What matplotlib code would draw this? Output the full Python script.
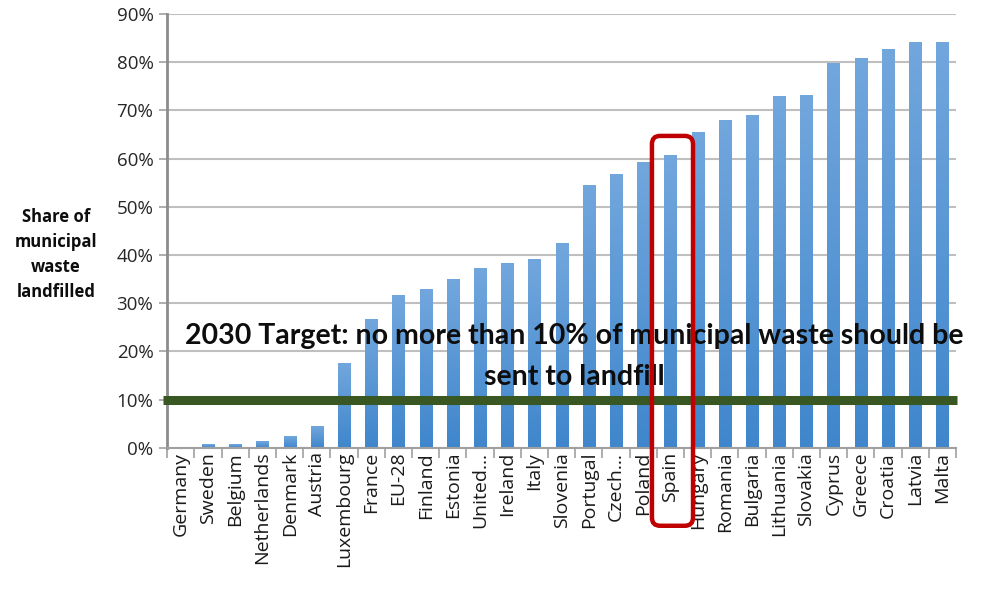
import matplotlib
matplotlib.use("Agg")
import matplotlib.pyplot as plt
import numpy as np
from matplotlib.patches import FancyBboxPatch
from matplotlib.colors import LinearSegmentedColormap

countries = ["Germany", "Sweden", "Belgium", "Netherlands", "Denmark", "Austria",
             "Luxembourg", "France", "EU-28", "Finland", "Estonia", "United…",
             "Ireland", "Italy", "Slovenia", "Portugal", "Czech…", "Poland", "Spain",
             "Hungary", "Romania", "Bulgaria", "Lithuania", "Slovakia", "Cyprus",
             "Greece", "Croatia", "Latvia", "Malta"]
landfill_share = [0.0, 0.7, 0.7, 1.3, 2.4, 4.4, 17.6, 26.6, 31.6, 32.9, 34.9, 37.2,
                  38.2, 39.2, 42.4, 54.4, 56.7, 59.3, 60.7, 65.4, 68.0, 69.0, 73.0,
                  73.2, 79.7, 80.9, 82.6, 84.2, 84.2]
yticks = [0, 10, 20, 30, 40, 50, 60, 70, 80, 90]
target = 10
highlight = "Spain"

LABEL_FONT = ["Open Sans", "DejaVu Sans"]
TITLE_FONT = ["Lato", "DejaVu Sans"]
plt.rcParams["font.family"] = LABEL_FONT

fig = plt.figure(figsize=(9.84, 5.89), dpi=100)
ax = fig.add_axes([167.3 / 984, 141.3 / 589, (956 - 167.3) / 984, (575 - 141.3) / 589])

x = np.arange(len(countries))
bars = ax.bar(x, landfill_share, width=0.45, color="#5B9BD5", zorder=2)

# vertical gradient over each bar
grad = np.linspace(0, 1, 256).reshape(-1, 1)
cmap = LinearSegmentedColormap.from_list("g", ["#3F86CC", "#72A7DD"])
for b in bars:
    h = b.get_height()
    if h <= 0:
        continue
    ax.imshow(grad, extent=[b.get_x(), b.get_x() + b.get_width(), 0, h],
              origin="lower", cmap=cmap, aspect="auto", zorder=2.5)
    b.set_visible(False)

ax.set_xlim(-0.5, len(countries) - 0.5)
ax.set_ylim(0, 90)

ax.set_yticks(yticks)
ax.set_yticklabels([f"{v}%" for v in yticks], fontsize=13.5, color="#262626")
ax.yaxis.grid(True, color="#BFBFBF", linewidth=1.5, zorder=0)
ax.set_axisbelow(True)

ax.set_xticks(np.arange(-0.5, len(countries) + 0.5, 1), minor=False)
ax.set_xticklabels([])
ax.set_xticks(x, minor=True)
ax.set_xticklabels(countries, minor=True, rotation=90, fontsize=14, color="#1a1a1a",
                   va="top", ha="center")
ax.tick_params(axis="x", which="major", length=7, width=1.2, color="#A0A0A0")
ax.tick_params(axis="x", which="minor", length=0, pad=3)
ax.tick_params(axis="y", length=6, width=1.2, color="#A0A0A0", pad=4)

for s in ["top", "right"]:
    ax.spines[s].set_visible(False)
ax.spines["left"].set_color("#8C8C8C")
ax.spines["left"].set_linewidth(2)
ax.spines["bottom"].set_color("#A0A0A0")
ax.spines["bottom"].set_linewidth(1.5)

# target line
ax.plot([-0.65, len(countries) - 0.45], [target, target], color="#385723",
        linewidth=6.5, solid_capstyle="butt", zorder=4, clip_on=False)

ax.text(14.45, 18.9, "2030 Target: no more than 10% of municipal waste should be\nsent to landfill",
        ha="center", va="center", fontsize=20.5, fontweight="bold", color="#0d0d0d",
        linespacing=1.7, zorder=5, family=TITLE_FONT)

# highlight box around Spain
i = countries.index(highlight)
x0, x1 = i - 0.68, i + 0.83
y0, y1 = -16.2, 64.7
box = FancyBboxPatch((x0, y0), x1 - x0, y1 - y0,
                     boxstyle="round,pad=0,rounding_size=0.3",
                     mutation_aspect=5.65, facecolor="none", edgecolor="#C00000",
                     linewidth=3.2, zorder=6, clip_on=False)
ax.add_patch(box)

fig.text(56 / 984, 1 - 254.5 / 589, "Share of\nmunicipal\nwaste\nlandfilled", ha="center",
         va="center", fontsize=12, fontweight="bold", color="#0d0d0d", linespacing=1.52)

fig.savefig("out.png", dpi=100)
